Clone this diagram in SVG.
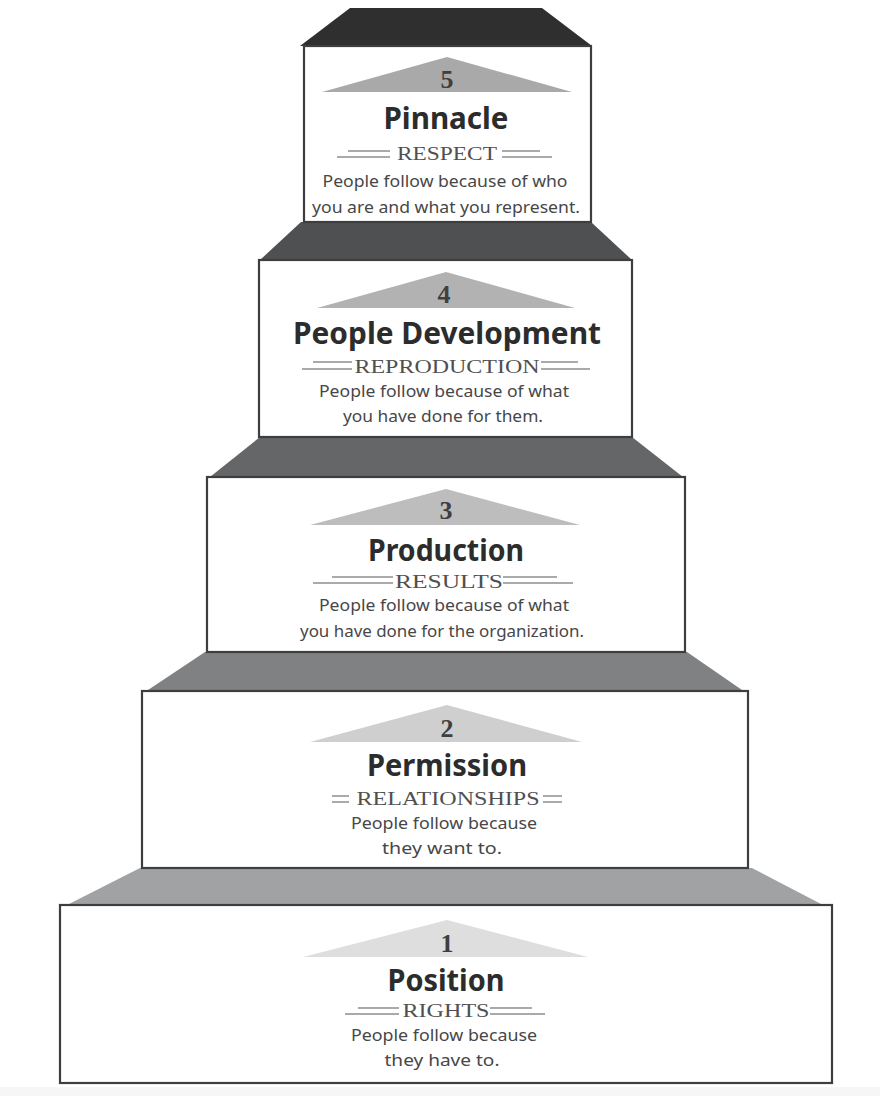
<svg xmlns="http://www.w3.org/2000/svg" width="880" height="1096" viewBox="0 0 880 1096">
<style>
.box{fill:#ffffff;stroke:#3e3e3e;stroke-width:2.2}
.num{font-family:"Liberation Serif",serif;font-weight:bold;font-size:26px;fill:#3f3f3f;text-anchor:middle}
.ttl{font-family:"Noto Sans","Liberation Sans",sans-serif;font-weight:bold;font-size:31px;fill:#2c2c2c;text-anchor:middle}
.sub{font-family:"Liberation Serif",serif;font-size:19px;fill:#505050;text-anchor:middle}
.dsc{font-family:"Noto Sans","Liberation Sans",sans-serif;font-size:16.5px;fill:#474747;text-anchor:middle}
.rule{stroke:#8e8e8e;stroke-width:1.3;fill:none}
</style>
<rect x="0" y="0" width="880" height="1096" fill="#ffffff"/>
<rect x="0" y="1087" width="880" height="9" fill="#f6f6f6"/>

<g id="risers">
<polygon points="350,8 542,8 592,46 300,46" fill="#2f2f2f"/>
<polygon points="301,222 591,222 632,260 260,260" fill="#4f5051"/>
<polygon points="260,437 632,437 683,477 210,477" fill="#646667"/>
<polygon points="205,652 687,652 742,690 148,690" fill="#7f8183"/>
<polygon points="140,868 752,868 823,905 67,905" fill="#a0a2a4"/>
</g>

<g id="level5">
<rect class="box" x="304" y="46" width="287" height="176"/>
<polygon points="447,57 572,92 322,92" fill="#a9a9a9"/>
<text class="num" x="447" y="88">5</text>
<text class="ttl" x="446" y="129" textLength="125" lengthAdjust="spacingAndGlyphs">Pinnacle</text>
<path class="rule" d="M348,151H390M337,157H390M502,151H540M502,157H552"/>
<text class="sub" x="447" y="160" textLength="100" lengthAdjust="spacingAndGlyphs">RESPECT</text>
<text class="dsc" x="445" y="187" textLength="245" lengthAdjust="spacingAndGlyphs">People follow because of who</text>
<text class="dsc" x="446" y="213" textLength="268" lengthAdjust="spacingAndGlyphs">you are and what you represent.</text>
</g>

<g id="level4">
<rect class="box" x="259" y="260" width="373" height="177"/>
<polygon points="446,272 575,308 317,308" fill="#b2b2b2"/>
<text class="num" x="444" y="303">4</text>
<text class="ttl" x="447" y="344" textLength="308" lengthAdjust="spacingAndGlyphs">People Development</text>
<path class="rule" d="M313,362H352M302,369H352M541,362H578M541,369H590"/>
<text class="sub" x="447" y="373" textLength="185" lengthAdjust="spacingAndGlyphs">REPRODUCTION</text>
<text class="dsc" x="444" y="397" textLength="250" lengthAdjust="spacingAndGlyphs">People follow because of what</text>
<text class="dsc" x="443" y="422" textLength="200" lengthAdjust="spacingAndGlyphs">you have done for them.</text>
</g>

<g id="level3">
<rect class="box" x="207" y="477" width="478" height="175"/>
<polygon points="446,489 580,525 310,525" fill="#bdbdbd"/>
<text class="num" x="446" y="519">3</text>
<text class="ttl" x="446" y="561" font-size="30" textLength="156" lengthAdjust="spacingAndGlyphs">Production</text>
<path class="rule" d="M332,577H393M313,583H393M503,577H557M503,583H573"/>
<text class="sub" x="449" y="588" textLength="108" lengthAdjust="spacingAndGlyphs">RESULTS</text>
<text class="dsc" x="444" y="611" textLength="250" lengthAdjust="spacingAndGlyphs">People follow because of what</text>
<text class="dsc" x="442" y="637" textLength="284" lengthAdjust="spacingAndGlyphs">you have done for the organization.</text>
</g>

<g id="level2">
<rect class="box" x="142" y="691" width="606" height="177"/>
<polygon points="447,705 582,742 310,742" fill="#cfcfcf"/>
<text class="num" x="447" y="737">2</text>
<text class="ttl" x="447" y="776" textLength="160" lengthAdjust="spacingAndGlyphs">Permission</text>
<path class="rule" d="M332,796H349M332,802H349M543,796H562M543,802H562"/>
<text class="sub" x="448" y="805" textLength="183" lengthAdjust="spacingAndGlyphs">RELATIONSHIPS</text>
<text class="dsc" x="444" y="829" textLength="186" lengthAdjust="spacingAndGlyphs">People follow because</text>
<text class="dsc" x="442" y="854" textLength="120" lengthAdjust="spacingAndGlyphs">they want to.</text>
</g>

<g id="level1">
<rect class="box" x="60" y="905" width="772" height="178"/>
<polygon points="447,920 588,957 303,957" fill="#dedede"/>
<text class="num" x="447" y="952">1</text>
<text class="ttl" x="446" y="991" textLength="117" lengthAdjust="spacingAndGlyphs">Position</text>
<path class="rule" d="M358,1008H399M345,1014H399M490,1008H532M490,1014H545"/>
<text class="sub" x="446" y="1017" textLength="87" lengthAdjust="spacingAndGlyphs">RIGHTS</text>
<text class="dsc" x="444" y="1041" textLength="186" lengthAdjust="spacingAndGlyphs">People follow because</text>
<text class="dsc" x="442" y="1066" textLength="115" lengthAdjust="spacingAndGlyphs">they have to.</text>
</g>
</svg>
